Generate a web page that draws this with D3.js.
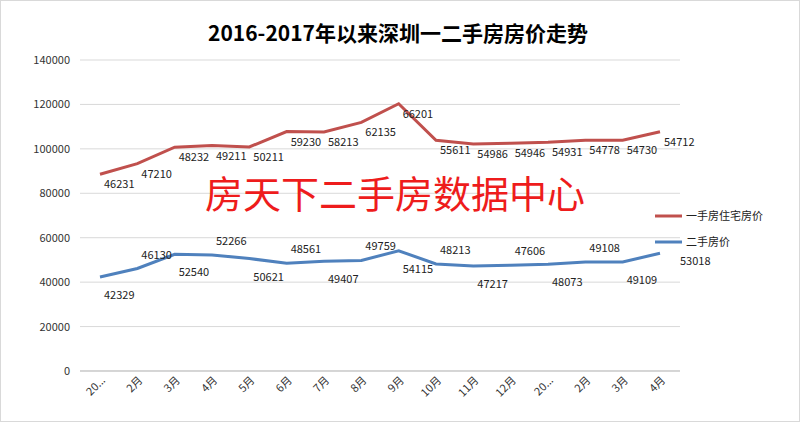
<!DOCTYPE html><html><head><meta charset="utf-8"><script src="https://d3js.org/d3.v7.min.js"></script>
<style>body{margin:0;background:#fff}text{font-family:"Noto Sans CJK SC","DejaVu Sans",sans-serif}</style></head><body>
<svg id="c" width="800" height="422"></svg>
<script>
const categories=["2016年1月","2月","3月","4月","5月","6月","7月","8月","9月","10月","11月","12月","2017年1月","2月","3月","4月"];
const secondHand=[42329,46130,52540,52266,50621,48561,49407,49759,54115,48213,47217,47606,48073,49108,49109,53018];
const newHouse=[46231,47210,48232,49211,50211,59230,58213,62135,66201,55611,54986,54946,54931,54778,54730,54712];
const yTicks=[0,20000,40000,60000,80000,100000,120000,140000];
const svg=d3.select("#c");
svg.append("rect").attr("x",0.5).attr("y",0.5).attr("width",799).attr("height",421).attr("fill","#fff").attr("stroke","#d9d9d9");
svg.append("text").attr("x",398).attr("y",41).attr("text-anchor","middle").attr("font-size",21).attr("font-weight","bold").text("2016-2017年以来深圳一二手房房价走势");
const x=d3.scalePoint().domain(d3.range(categories.length)).range([100,660]);
const y=d3.scaleLinear().domain([0,140000]).range([371,60]);
svg.append("g").selectAll("line").data(yTicks).join("line").attr("x1",80).attr("x2",680).attr("y1",d=>y(d)).attr("y2",d=>y(d)).attr("stroke","#d9d9d9");
svg.append("line").attr("x1",80).attr("x2",680).attr("y1",y(0)).attr("y2",y(0)).attr("stroke","#bfbfbf");
svg.append("g").selectAll("text").data(yTicks).join("text").attr("x",70).attr("y",d=>y(d)+4).attr("text-anchor","end").attr("font-size",11).attr("fill","#333").text(d=>d);
svg.append("g").selectAll("text").data(categories).join("text")
 .attr("transform",(d,i)=>`translate(${x(i)+6},${381}) rotate(-45)`).attr("text-anchor","end").attr("font-size",11).attr("fill","#333")
 .text(d=>d.length>4?d.slice(0,2)+"...":d);
const stacked=secondHand.map((v,i)=>v+newHouse[i]);
const line=d3.line().x((d,i)=>x(i)).y(d=>y(d));
svg.append("path").attr("d",line(stacked)).attr("fill","none").attr("stroke","#c0504d").attr("stroke-width",3);
svg.append("path").attr("d",line(secondHand)).attr("fill","none").attr("stroke","#4f81bd").attr("stroke-width",3);
svg.append("text").attr("x",395).attr("y",208).attr("text-anchor","middle").attr("font-size",38).attr("fill","#ee1c1c").text("房天下二手房数据中心");
svg.append("g").selectAll("text").data(newHouse).join("text").attr("x",(d,i)=>x(i)+4).attr("y",(d,i)=>y(stacked[i])+14).attr("font-size",11).attr("fill","#222").text(d=>d);
const last=secondHand.length-1;
svg.append("g").selectAll("text").data(secondHand).join("text").attr("x",(d,i)=>x(i)+(i===last?20:4)).attr("y",(d,i)=>y(d)+(i===last?12:(i%2?-10:22))).attr("font-size",11).attr("fill","#222").text(d=>d);
const leg=[["一手房住宅房价","#c0504d",216],["二手房价","#4f81bd",242]];
leg.forEach(([t,c,yy])=>{svg.append("line").attr("x1",655).attr("x2",682).attr("y1",yy).attr("y2",yy).attr("stroke",c).attr("stroke-width",3);
svg.append("text").attr("x",686).attr("y",yy+4).attr("font-size",11).attr("fill","#222").text(t);});
</script></body></html>
